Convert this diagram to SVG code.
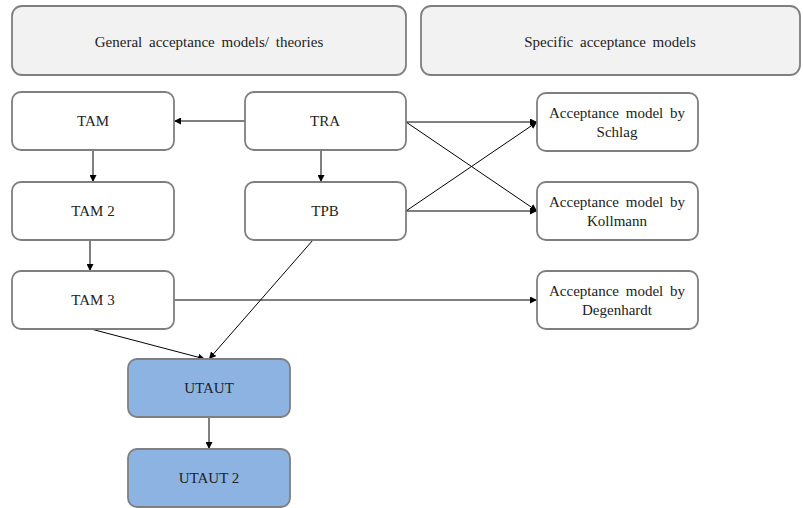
<svg xmlns="http://www.w3.org/2000/svg" width="803" height="508" viewBox="0 0 803 508">
<defs>
<style>
.box{fill:#ffffff;stroke:#7f7f7f;stroke-width:1.8}
.hdr{fill:#f2f2f2;stroke:#7f7f7f;stroke-width:1.8}
.blue{fill:#8db3e2;stroke:#7f7f7f;stroke-width:1.8}
text{font-family:"Liberation Serif","Times New Roman",serif;font-size:15px;fill:#222222;text-anchor:middle}
.ws{word-spacing:3px}
.c{fill:none;stroke:#000000;stroke-width:1;marker-end:url(#ah)}
</style>
<marker id="ah" viewBox="0 0 10 10" refX="10" refY="5" markerWidth="7" markerHeight="7" markerUnits="userSpaceOnUse" orient="auto">
<path d="M0,0 L10,5 L0,10 Z" fill="#000000"/>
</marker>
</defs>
<rect width="803" height="508" fill="#ffffff"/>
<g id="hdr-general"><rect class="hdr" x="12" y="6" width="394" height="69" rx="10"/><text class="ws" x="209" y="47">General acceptance models/ theories</text></g>
<g id="hdr-specific"><rect class="hdr" x="421" y="6" width="379" height="69" rx="10"/><text class="ws" x="610" y="47">Specific acceptance models</text></g>
<g id="connectors">
<path class="c" d="M245,121 L174,121"/>
<path class="c" d="M93,151 L93,182"/>
<path class="c" d="M321,151 L321,182"/>
<path class="c" d="M90,240 L90,271"/>
<path class="c" d="M313,240 L209,359"/>
<path class="c" d="M91,329 L205,359"/>
<path class="c" d="M174,300 L537,300"/>
<path class="c" d="M406,122 L537,122"/>
<path class="c" d="M406,122 L537,211"/>
<path class="c" d="M406,211 L537,211"/>
<path class="c" d="M406,211 L537,122"/>
<path class="c" d="M209,417 L209,449"/>
</g>
<g id="TAM"><rect class="box" x="12" y="92" width="162" height="58" rx="9"/><text x="93" y="126">TAM</text></g>
<g id="TRA"><rect class="box" x="245" y="92" width="161" height="58" rx="9"/><text x="325" y="126">TRA</text></g>
<g id="TAM2"><rect class="box" x="12" y="182" width="162" height="58" rx="9"/><text x="93" y="216">TAM 2</text></g>
<g id="TPB"><rect class="box" x="245" y="182" width="161" height="58" rx="9"/><text x="325" y="216">TPB</text></g>
<g id="TAM3"><rect class="box" x="12" y="271" width="162" height="58" rx="9"/><text x="93" y="305">TAM 3</text></g>
<g id="UTAUT"><rect class="blue" x="128" y="359" width="162" height="58" rx="9"/><text x="209" y="393">UTAUT</text></g>
<g id="UTAUT2"><rect class="blue" x="128" y="449" width="162" height="58" rx="9"/><text x="209" y="483">UTAUT 2</text></g>
<g id="Schlag"><rect class="box" x="537" y="93" width="161" height="58" rx="9"/><text x="617" y="118" class="ws">Acceptance model by</text><text x="617" y="137">Schlag</text></g>
<g id="Kollmann"><rect class="box" x="537" y="182" width="161" height="58" rx="9"/><text x="617" y="207" class="ws">Acceptance model by</text><text x="617" y="226">Kollmann</text></g>
<g id="Degenhardt"><rect class="box" x="537" y="271" width="161" height="58" rx="9"/><text x="617" y="296" class="ws">Acceptance model by</text><text x="617" y="315">Degenhardt</text></g>
</svg>
